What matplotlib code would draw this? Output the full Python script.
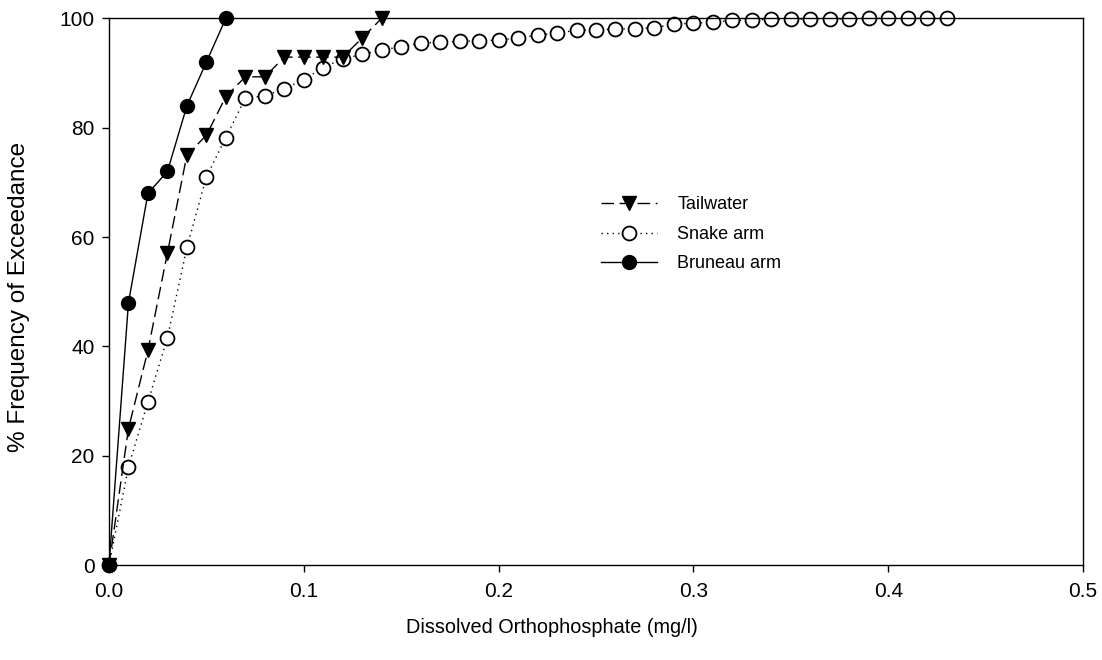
import matplotlib
matplotlib.use("Agg")
import matplotlib.pyplot as plt

plt.rcParams['font.family'] = ['Liberation Sans', 'DejaVu Sans']

# Concentration (mg/l) and cumulative % frequency of exceedance for each site
tail_x = [0.00, 0.01, 0.02, 0.03, 0.04, 0.05, 0.06, 0.07, 0.08, 0.09,
          0.10, 0.11, 0.12, 0.13, 0.14]
tail_y = [0.0, 25.0, 39.3, 57.1, 75.0, 78.6, 85.7, 89.3, 89.3, 92.9,
          92.9, 92.9, 92.9, 96.4, 100.0]

snake_x = [0.00, 0.01, 0.02, 0.03, 0.04, 0.05, 0.06, 0.07, 0.08, 0.09,
           0.10, 0.11, 0.12, 0.13, 0.14, 0.15, 0.16, 0.17, 0.18, 0.19,
           0.20, 0.21, 0.22, 0.23, 0.24, 0.25, 0.26, 0.27, 0.28, 0.29,
           0.30, 0.31, 0.32, 0.33, 0.34, 0.35, 0.36, 0.37, 0.38, 0.39,
           0.40, 0.41, 0.42, 0.43]
snake_y = [0.0, 18.0, 29.9, 41.6, 58.1, 71.0, 78.2, 85.4, 85.8, 87.1,
           88.8, 91.0, 92.6, 93.4, 94.2, 94.8, 95.5, 95.6, 95.8, 95.9,
           96.0, 96.4, 96.9, 97.3, 97.8, 97.9, 98.0, 98.1, 98.3, 98.9,
           99.1, 99.3, 99.6, 99.7, 99.8, 99.8, 99.9, 99.9, 99.9, 100.0,
           100.0, 100.0, 100.0, 100.0]

bruneau_x = [0.00, 0.01, 0.02, 0.03, 0.04, 0.05, 0.06]
bruneau_y = [0.0, 48.0, 68.0, 72.0, 84.0, 92.0, 100.0]

x_ticks = [0.0, 0.1, 0.2, 0.3, 0.4, 0.5]
y_ticks = [0, 20, 40, 60, 80, 100]

fig = plt.figure(figsize=(11.02, 6.6), dpi=100)
ax = fig.add_axes([0.0989, 0.1435, 0.8839, 0.8288])

ax.plot(tail_x, tail_y, color='black', lw=1.0, linestyle=(0, (9, 4)),
        marker='v', markersize=10.5, markerfacecolor='black',
        markeredgecolor='black', label='Tailwater', clip_on=False, zorder=3)
ax.plot(snake_x, snake_y, color='black', lw=1.0, linestyle=(0, (1, 3)),
        marker='o', markersize=10, markerfacecolor='white',
        markeredgecolor='black', markeredgewidth=1.3, label='Snake arm',
        clip_on=False, zorder=2)
ax.plot(bruneau_x, bruneau_y, color='black', lw=1.0, linestyle='-',
        marker='o', markersize=10, markerfacecolor='black',
        markeredgecolor='black', label='Bruneau arm', clip_on=False, zorder=4)

ax.set_xlim(0, 0.5)
ax.set_ylim(0, 100)
ax.set_xticks(x_ticks)
ax.set_xticklabels([f"{v:.1f}" for v in x_ticks])
ax.set_yticks(y_ticks)
ax.tick_params(direction='out', length=5, width=1, labelsize=15,
               top=False, right=False)
ax.tick_params(axis='x', pad=7)
ax.tick_params(axis='y', pad=5.5)
for s in ax.spines.values():
    s.set_linewidth(1.0)

ax.set_xlabel('Dissolved Orthophosphate (mg/l)', fontsize=14.3)
ax.xaxis.set_label_coords(0.455, -0.097)
ax.set_ylabel('% Frequency of Exceedance', fontsize=17.5)
ax.yaxis.set_label_coords(-0.081, 0.49)

ax.legend(loc='center left', bbox_to_anchor=(0.488, 0.605), frameon=False,
          fontsize=13, handlelength=3.1, handletextpad=1.15, labelspacing=0.7,
          numpoints=1)

fig.savefig('out.png', dpi=100)
